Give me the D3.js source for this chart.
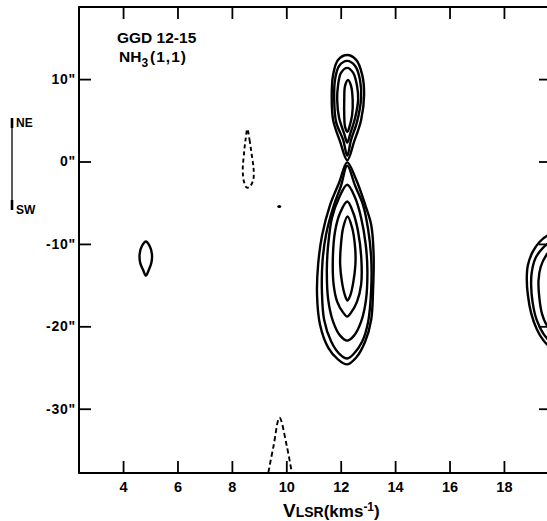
<!DOCTYPE html>
<html>
<head>
<meta charset="utf-8">
<script src="https://cdn.jsdelivr.net/npm/d3@7/dist/d3.min.js"></script>
<style>
  body { margin: 0; background: #fff; }
  svg text { font-family: "Liberation Sans", Arial, sans-serif; font-weight: bold; fill: #000; }
</style>
</head>
<body>
<div id="graph"></div>
<script>
// axis ticks (km/s and arcsec)
const velocityTicks = [4, 6, 8, 10, 12, 14, 16, 18];
const offsetTicks = [10, 0, -10, -20, -30];

// positive contours, [velocity, offset]
const upperCore = [
  [[12.24,12.93],[12.57,12.33],[12.79,10.51],[12.86,8.08],[12.75,5.05],[12.49,2.39],[12.24,0.15],[11.98,2.39],[11.72,5.05],[11.67,8.08],[11.72,10.51],[11.90,12.33]],
  [[12.24,12.21],[12.53,11.6],[12.71,9.9],[12.75,7.72],[12.60,4.81],[12.38,2.63],[12.24,0.7],[12.09,2.63],[11.83,4.81],[11.76,7.72],[11.79,9.9],[11.94,11.6]],
  [[12.24,11.36],[12.46,10.75],[12.60,9.18],[12.64,7.48],[12.53,5.3],[12.35,3.36],[12.24,2.3],[12.13,3.36],[11.94,5.3],[11.87,7.48],[11.90,9.18],[12.01,10.75]],
  [[12.27,9.9],[12.38,9.18],[12.44,7.48],[12.42,5.66],[12.31,4.08],[12.25,3.6],[12.16,4.21],[12.13,5.66],[12.13,7.48],[12.16,9.18]]
];
const lowerCore = [
  [[12.24,-0.1],[12.57,-2.22],[12.90,-5.25],[13.12,-7.67],[13.21,-11.31],[13.19,-15.55],[13.12,-19.2],[12.90,-21.85],[12.57,-23.79],[12.24,-24.62],[11.90,-24.02],[11.54,-22.58],[11.24,-19.8],[11.13,-16.16],[11.17,-12.52],[11.32,-8.88],[11.61,-5.25],[11.94,-2.58]],
  [[12.24,-0.5],[12.53,-2.95],[12.82,-5.25],[13.01,-8.28],[13.12,-11.67],[13.12,-15.55],[13.01,-19.43],[12.79,-21.85],[12.49,-23.3],[12.24,-23.9],[11.94,-23.3],[11.65,-21.85],[11.39,-19.2],[11.31,-15.8],[11.33,-12.16],[11.46,-8.88],[11.72,-5.61],[12.01,-2.95]],
  [[12.24,-2.82],[12.53,-4.4],[12.75,-6.82],[12.92,-10.1],[12.98,-13.12],[12.93,-16.76],[12.75,-19.43],[12.49,-21.13],[12.24,-21.73],[11.98,-21.13],[11.72,-19.43],[11.54,-16.76],[11.49,-13.12],[11.54,-10.1],[11.68,-6.82],[11.94,-4.4]],
  [[12.24,-4.85],[12.46,-6.22],[12.64,-8.52],[12.76,-11.92],[12.75,-14.94],[12.60,-17.0],[12.38,-18.34],[12.24,-18.82],[12.09,-18.34],[11.87,-17.0],[11.74,-14.94],[11.71,-11.92],[11.79,-8.52],[11.98,-6.22]],
  [[12.25,-6.67],[12.42,-8.04],[12.53,-10.46],[12.54,-12.52],[12.46,-14.7],[12.35,-16.28],[12.25,-16.88],[12.16,-16.28],[12.05,-14.7],[11.98,-12.52],[12.0,-10.46],[12.09,-8.04]]
];
const westKnot = [[4.84,-9.7],[4.97,-10.2],[5.06,-11.2],[5.04,-12.3],[4.94,-13.2],[4.84,-13.85],[4.74,-13.2],[4.63,-12.3],[4.61,-11.2],[4.70,-10.2]];
const eastCloud = [
  [[19.6,-9.0],[19.3,-9.8],[19.05,-11.0],[18.88,-12.6],[18.84,-14.2],[18.88,-16.2],[19.0,-18.4],[19.2,-20.3],[19.45,-21.7],[19.7,-22.5],[20.2,-23],[20.8,-20],[21,-15],[20.6,-10],[20.1,-8.6]],
  [[19.7,-9.8],[19.4,-10.6],[19.15,-11.8],[19.02,-13.5],[19.0,-15.0],[19.05,-17.0],[19.2,-19.2],[19.45,-20.9],[19.7,-21.8],[20.2,-22.2],[20.8,-19.5],[20.9,-15],[20.5,-11],[20.1,-9.5]],
  [[19.8,-10.5],[19.55,-11.4],[19.35,-12.8],[19.27,-14.5],[19.3,-16.5],[19.4,-18.5],[19.6,-20.0],[19.85,-20.8],[20.3,-21],[20.7,-18],[20.7,-14],[20.3,-11]]
];
const pointKnot = [9.74, -5.45];

// negative (dashed) contours
const dashedKnot = [[8.57,3.93],[8.65,2.6],[8.73,0.8],[8.80,-1.0],[8.78,-2.3],[8.64,-3.1],[8.54,-3.15],[8.44,-2.4],[8.40,-1.0],[8.44,0.8],[8.50,2.6]];
const dashedPeak = [[9.34,-37.73],[9.53,-34.55],[9.75,-31.1],[10.02,-34.55],[10.20,-37.73]];

const fullwidth = 547;
const fullheight = 521;
const plotLeft = 79, plotRight = 551, plotTop = 7, plotBottom = 473;

var x = d3.scaleLinear().domain([2.38, 19.73]).range([plotLeft, plotRight]);
var y = d3.scaleLinear().domain([-37.8, 18.75]).range([plotBottom, plotTop]);

var svg = d3.select("#graph").append("svg")
  .attr("width", fullwidth)
  .attr("height", fullheight);

svg.append("defs").append("clipPath").attr("id", "plotclip")
  .append("rect").attr("x", plotLeft).attr("y", plotTop)
  .attr("width", plotRight - plotLeft).attr("height", plotBottom - plotTop);

var closedLine = d3.line().x(d => x(d[0])).y(d => y(d[1])).curve(d3.curveCatmullRomClosed.alpha(0.5));
var openLine = d3.line().x(d => x(d[0])).y(d => y(d[1])).curve(d3.curveCatmullRom.alpha(0.5));

var plot = svg.append("g").attr("clip-path", "url(#plotclip)");

var solid = [].concat(upperCore, lowerCore, [westKnot], eastCloud);
plot.selectAll("path.pos").data(solid).enter().append("path")
  .attr("class", "pos")
  .attr("d", closedLine)
  .attr("fill", "none")
  .attr("stroke", "#000")
  .attr("stroke-width", 2.4)
  .attr("stroke-linejoin", "round");

plot.append("path").datum(dashedKnot)
  .attr("d", closedLine)
  .attr("fill", "none").attr("stroke", "#000").attr("stroke-width", 1.9)
  .attr("stroke-dasharray", "4,3");

plot.append("path").datum(dashedPeak)
  .attr("d", openLine)
  .attr("fill", "none").attr("stroke", "#000").attr("stroke-width", 1.9)
  .attr("stroke-dasharray", "5,3");

plot.append("ellipse")
  .attr("cx", x(pointKnot[0])).attr("cy", y(pointKnot[1]))
  .attr("rx", 2).attr("ry", 1.5).attr("fill", "#000");

// frame and ticks
svg.append("rect").attr("x", plotLeft).attr("y", plotTop)
  .attr("width", plotRight - plotLeft).attr("height", plotBottom - plotTop)
  .attr("fill", "none").attr("stroke", "#000").attr("stroke-width", 2);

function styleAxis(g) {
  g.select(".domain").remove();
  g.selectAll(".tick line").attr("stroke", "#000").attr("stroke-width", 1.8);
  g.selectAll("text").attr("font-family", null).attr("font-size", null);
}

svg.append("g").attr("transform", `translate(0,${plotBottom})`)
  .call(d3.axisBottom(x).tickValues(velocityTicks).tickSize(-12).tickPadding(9).tickFormat(d3.format("d")))
  .call(styleAxis)
  .selectAll("text").style("font-size", "14.5px");

svg.append("g").attr("transform", `translate(0,${plotTop})`)
  .call(d3.axisTop(x).tickValues(velocityTicks).tickSize(-12).tickFormat(""))
  .call(styleAxis);

svg.append("g").attr("transform", `translate(${plotLeft},0)`)
  .call(d3.axisLeft(y).tickValues(offsetTicks).tickSize(-12).tickPadding(3).tickFormat(d => d + '"'))
  .call(styleAxis)
  .selectAll("text").style("font-size", "14px").style("letter-spacing", "0.8px");

svg.append("g").attr("transform", `translate(${plotRight},0)`)
  .call(d3.axisRight(y).tickValues(offsetTicks).tickSize(-12).tickFormat(""))
  .call(styleAxis);

// labels
svg.append("text").attr("x", 117).attr("y", 43)
  .style("font-size", "15.5px").text("GGD 12-15");

var nh3 = svg.append("text").attr("x", 119).attr("y", 62).style("font-size", "15.5px");
nh3.append("tspan").text("NH");
nh3.append("tspan").attr("dy", 5).style("font-size", "12px").text("3");
nh3.append("tspan").attr("dy", -5).attr("dx", 2).style("letter-spacing", "1px").text("(1,1)");

var xt = svg.append("text").attr("x", 283).attr("y", 517);
xt.append("tspan").style("font-size", "19px").text("V");
xt.append("tspan").style("font-size", "14px").text("LSR");
xt.append("tspan").style("font-size", "17px").text("(kms");
xt.append("tspan").attr("dy", -6).style("font-size", "12px").text("-1");
xt.append("tspan").attr("dy", 6).style("font-size", "17px").text(")");

// NE / SW orientation bar
var orient = svg.append("g");
orient.append("line").attr("x1", 12).attr("x2", 12).attr("y1", 118).attr("y2", 210)
  .attr("stroke", "#000").attr("stroke-width", 1.3);
orient.append("line").attr("x1", 12).attr("x2", 12).attr("y1", 118).attr("y2", 128)
  .attr("stroke", "#000").attr("stroke-width", 2.6);
orient.append("line").attr("x1", 12).attr("x2", 12).attr("y1", 200).attr("y2", 210)
  .attr("stroke", "#000").attr("stroke-width", 2.6);
orient.append("text").attr("x", 16).attr("y", 127).style("font-size", "12px").text("NE");
orient.append("text").attr("x", 16).attr("y", 214).style("font-size", "12px").text("SW");
</script>
</body>
</html>
